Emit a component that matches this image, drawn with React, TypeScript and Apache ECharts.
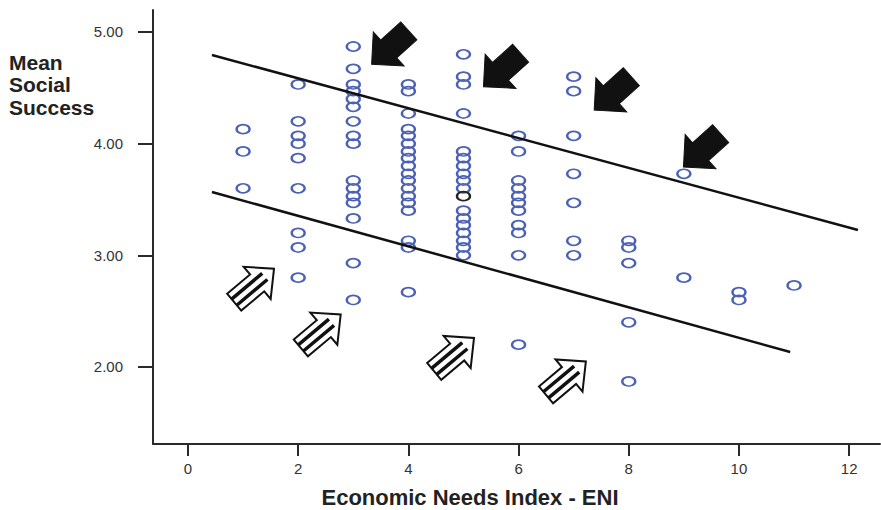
import React, { useEffect, useRef } from "react";
import * as echarts from "echarts";

// Mean Social Success values for each Economic Needs Index (ENI) level
const eni1 = [4.13, 3.93, 3.6];
const eni2 = [4.53, 4.2, 4.07, 4.0, 3.87, 3.6, 3.2, 3.07, 2.8];
const eni3 = [4.87, 4.67, 4.53, 4.47, 4.4, 4.33, 4.2, 4.07, 4.0, 3.67, 3.6, 3.53, 3.47, 3.33, 2.93, 2.6];
const eni4 = [4.53, 4.47, 4.27, 4.13, 4.07, 4.0, 3.93, 3.87, 3.8, 3.73, 3.67, 3.6, 3.53, 3.47, 3.4, 3.13, 3.07, 2.67];
const eni5 = [4.8, 4.6, 4.53, 4.27, 3.93, 3.87, 3.8, 3.73, 3.67, 3.6, 3.4, 3.33, 3.27, 3.2, 3.13, 3.07, 3.0];
const eni6 = [4.07, 3.93, 3.67, 3.6, 3.53, 3.47, 3.4, 3.27, 3.2, 3.0, 2.2];
const eni7 = [4.6, 4.47, 4.07, 3.73, 3.47, 3.13, 3.0];
const eni8 = [3.13, 3.07, 2.93, 2.4, 1.87];
const eni9 = [3.73, 2.8];
const eni10 = [2.67, 2.6];
const eni11 = [2.73];
const highlightedPoint = [5, 3.53];

// Band lines (start / end points)
const upperLineX = [0.435, 12.16];
const upperLineY = [4.794, 3.227];
const lowerLineX = [0.435, 10.93];
const lowerLineY = [3.567, 2.134];

// Tick labels
const xTicks = [0, 2, 4, 6, 8, 10, 12];
const yTicks = [2, 3, 4, 5];

// Annotation arrows (data coordinates of their centres)
const blackArrowX = [3.67, 5.7, 7.71, 9.33];
const blackArrowY = [4.86, 4.66, 4.45, 3.94];
const stripedArrowX = [1.2, 2.41, 4.83, 6.86];
const stripedArrowY = [2.73, 2.32, 2.11, 1.9];

const BLACK_ARROW = [
  [-25, -12],
  [2, -12],
  [2, -23],
  [25, 0],
  [2, 23],
  [2, 12],
  [-25, 12],
];
const STRIPED_ARROW = [
  [-26, -11],
  [4, -11],
  [4, -21],
  [26, 0],
  [4, 21],
  [4, 11],
  [-26, 11],
];

const FONT = "'Liberation Sans', Arial, Helvetica, sans-serif";

export default function App() {
  const ref = useRef<HTMLDivElement>(null);

  useEffect(() => {
    if (!ref.current) return;
    const chart = echarts.init(ref.current, undefined, { renderer: "svg" });

    const columns = [eni1, eni2, eni3, eni4, eni5, eni6, eni7, eni8, eni9, eni10, eni11];
    const scatterData: number[][] = [];
    columns.forEach((vals, i) => {
      vals.forEach((v) => scatterData.push([i + 1, v]));
    });

    const axisColor = "#2a2a2a";

    chart.setOption({
      animation: false,
      backgroundColor: "#ffffff",
      textStyle: { fontFamily: FONT },
      grid: { left: 153, right: 1, top: 10, bottom: 66, containLabel: false },
      xAxis: {
        type: "value",
        min: -0.635,
        max: 12.56,
        axisLine: { show: true, onZero: false, lineStyle: { color: axisColor, width: 2 } },
        axisTick: { show: true, length: 12, lineStyle: { color: axisColor, width: 2 }, customValues: xTicks },
        axisLabel: { customValues: xTicks, margin: 17, fontSize: 15, color: "#333", fontFamily: FONT },
        splitLine: { show: false },
      },
      yAxis: {
        type: "value",
        min: 1.31,
        max: 5.197,
        axisLine: { show: true, onZero: false, lineStyle: { color: axisColor, width: 2 } },
        axisTick: { show: true, length: 15, lineStyle: { color: axisColor, width: 2 }, customValues: yTicks },
        axisLabel: {
          customValues: yTicks,
          margin: 30,
          fontSize: 15,
          color: "#333",
          fontFamily: FONT,
          formatter: (v: number) => v.toFixed(2),
        },
        splitLine: { show: false },
      },
      series: [
        {
          type: "scatter",
          data: scatterData,
          symbol: "circle",
          symbolSize: [13, 9],
          itemStyle: { color: "rgba(0,0,0,0)", borderColor: "#4c61b6", borderWidth: 2, opacity: 1 },
          z: 2,
        },
        {
          type: "scatter",
          data: [highlightedPoint],
          symbol: "circle",
          symbolSize: [13, 9],
          itemStyle: { color: "rgba(0,0,0,0)", borderColor: "#222", borderWidth: 2, opacity: 1 },
          z: 3,
        },
        {
          type: "line",
          data: upperLineX.map((x, i) => [x, upperLineY[i]]),
          symbol: "none",
          lineStyle: { color: "#111", width: 2.5 },
          z: 4,
        },
        {
          type: "line",
          data: lowerLineX.map((x, i) => [x, lowerLineY[i]]),
          symbol: "none",
          lineStyle: { color: "#111", width: 2.5 },
          z: 4,
        },
      ],
    });

    const graphics: any[] = [];
    blackArrowX.forEach((x, i) => {
      const p = chart.convertToPixel({ gridIndex: 0 }, [x, blackArrowY[i]]) as number[];
      graphics.push({
        type: "group",
        x: p[0],
        y: p[1],
        rotation: (222 * Math.PI) / 180,
        z: 10,
        children: [
          {
            type: "polygon",
            shape: { points: BLACK_ARROW },
            style: { fill: "#111", stroke: "#111", lineWidth: 1 },
          },
        ],
      });
    });
    stripedArrowX.forEach((x, i) => {
      const p = chart.convertToPixel({ gridIndex: 0 }, [x, stripedArrowY[i]]) as number[];
      graphics.push({
        type: "group",
        x: p[0],
        y: p[1],
        rotation: (40 * Math.PI) / 180,
        z: 10,
        children: [
          {
            type: "polygon",
            shape: { points: STRIPED_ARROW },
            style: { fill: "#fff", stroke: "#111", lineWidth: 2 },
          },
          { type: "line", shape: { x1: -26, y1: -4, x2: 14, y2: -4 }, style: { stroke: "#111", lineWidth: 3.5 } },
          { type: "line", shape: { x1: -26, y1: 4, x2: 14, y2: 4 }, style: { stroke: "#111", lineWidth: 3.5 } },
        ],
      });
    });
    graphics.push({
      type: "text",
      left: 9,
      top: 51,
      style: {
        text: "Mean\nSocial\nSuccess",
        font: `bold 21px ${FONT}`,
        lineHeight: 22.5,
        fill: "#222",
      },
    });
    graphics.push({
      type: "text",
      x: 470,
      y: 497,
      style: {
        text: "Economic Needs Index - ENI",
        font: `bold 22px ${FONT}`,
        fill: "#222",
        align: "center",
        verticalAlign: "middle",
      },
    });
    chart.setOption({ graphic: graphics });

    return () => chart.dispose();
  }, []);

  return (
    <div
      ref={ref}
      style={{ position: "absolute", left: 0, top: 0, width: 881, height: 510, background: "#fff" }}
    />
  );
}
